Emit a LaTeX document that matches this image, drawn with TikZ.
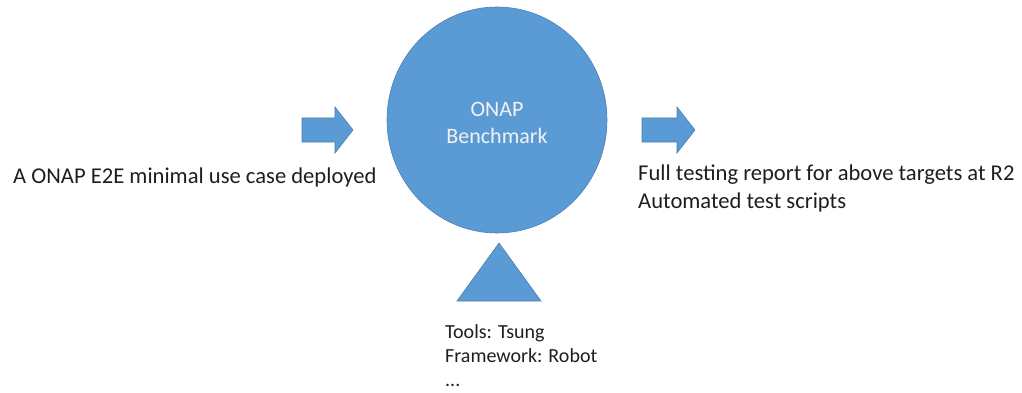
\documentclass[tikz,border=0pt]{standalone}
\usepackage{fontspec}
\setmainfont{Carlito}
\usetikzlibrary{shapes.geometric}
\definecolor{shapeblue}{HTML}{5B9BD5}
\definecolor{shapeedge}{HTML}{4A7FB0}
\definecolor{txt}{HTML}{1E1E1E}
\begin{document}
\begin{tikzpicture}[x=1pt,y=-1pt,
  blueshape/.style={fill=shapeblue,draw=shapeedge,line width=0.6pt,line join=miter},
  bigtxt/.style={font=\fontsize{22.6}{27}\selectfont,text=txt,inner sep=0pt},
  smalltxt/.style={font=\fontsize{20}{24}\selectfont,text=txt,inner sep=0pt},
  circtxt/.style={font=\fontsize{22}{26}\selectfont,text=white!95!black,inner sep=0pt}]
\useasboundingbox (0,0) rectangle (1022,393);
% central circle
\draw[blueshape] (497,120) ellipse [x radius=110, y radius=113];
\node[circtxt,anchor=base] (onap) at (497,117) {ONAP};
\node[circtxt,anchor=base] (bench) at (497,143) {Benchmark};
% input arrow
\draw[blueshape] (302,118) -- (335,118) -- (335,107) -- (353,130) -- (335,153) -- (335,142) -- (302,142) -- cycle;
% output arrow
\draw[blueshape] (642,118) -- (677,118) -- (677,107) -- (695,130) -- (677,153) -- (677,142) -- (642,142) -- cycle;
% triangle
\draw[blueshape] (499,243) -- (541,301) -- (457,301) -- cycle;
% texts
\node[bigtxt,anchor=base west] (input) at (13,183) {A ONAP E2E minimal use case deployed};
\node[bigtxt,anchor=base west] (out1) at (638,180) {Full testing report for above targets at R2};
\node[bigtxt,anchor=base west] (out2) at (638,208) {Automated test scripts};
\node[smalltxt,anchor=base west] (tools) at (445,338) {Tools: Tsung};
\node[smalltxt,anchor=base west] (frame) at (445,362) {Framework: Robot};
\node[smalltxt,anchor=base west] (dots) at (445,386) {...};
\end{tikzpicture}
\end{document}
